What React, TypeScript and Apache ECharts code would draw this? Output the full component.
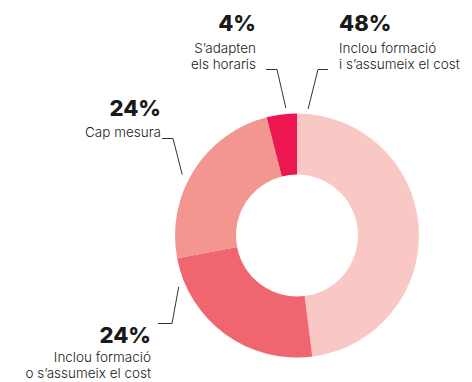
import React, { useEffect, useRef } from "react";
import * as echarts from "echarts";

// Shares of each answer, clockwise from 12 o'clock
const percents = [48, 24, 24, 4];
const captions = [
  ["Inclou formació", "i s’assumeix el cost"],
  ["Inclou formació", "o s’assumeix el cost"],
  ["Cap mesura"],
  ["S’adapten", "els horaris"],
];
const colors = ["#f9c8c4", "#f06670", "#f3968f", "#ed1651"];

const CENTER: [number, number] = [297, 235.5];
const INNER = 61;
const OUTER = 122;

// Leader line geometry per slice: angle (deg, clockwise from top) and distance
// where the line starts, then the elbow and the end of the horizontal stub,
// the label's anchor (top of the text block) and the height of its first row.
const leaders = [
  { angle: 5, dist: 127, elbow: [318, 69.5], end: [328, 69.5], label: [339, 7.2], align: "left", head: 32.4 },
  { angle: 246.5, dist: 129, elbow: [172, 323.5], end: [158, 323.5], label: [151, 322.1], align: "right", head: 26.8 },
  { angle: 298, dist: 130, elbow: [173, 138.5], end: [162, 138.5], label: [161, 92.8], align: "right", head: 31.4 },
  { angle: 355, dist: 128, elbow: [277, 69.5], end: [266, 69.5], label: [256, 7.2], align: "right", head: 32.4 },
];

function anchorPoint(angle: number, dist: number): [number, number] {
  const a = (angle * Math.PI) / 180;
  return [CENTER[0] + dist * Math.sin(a), CENTER[1] - dist * Math.cos(a)];
}

export default function App() {
  const ref = useRef<HTMLDivElement>(null);

  useEffect(() => {
    if (!ref.current) return;
    const chart = echarts.init(ref.current, undefined, { renderer: "svg" });

    const rich: Record<string, any> = {
      txt: {
        fontFamily: "Inter",
        fontWeight: 300,
        fontSize: 13.5,
        lineHeight: 16.4,
        color: "#1a1a1a",
      },
    };
    leaders.forEach((l, i) => {
      rich["pct" + i] = {
        fontFamily: "Inter",
        fontWeight: 800,
        fontSize: 22,
        lineHeight: l.head,
        color: "#1a1a1a",
      };
    });

    const data = percents.map((v, i) => ({
      value: v,
      name: captions[i].join(" "),
      itemStyle: { color: colors[i] },
    }));

    chart.setOption({
      animation: false,
      series: [
        {
          type: "pie",
          center: CENTER,
          radius: [INNER, OUTER],
          startAngle: 90,
          clockwise: true,
          silent: true,
          avoidLabelOverlap: false,
          minShowLabelAngle: 0,
          data,
          label: {
            show: true,
            position: "outside",
            overflow: "none",
            formatter: (p: any) =>
              [`{pct${p.dataIndex}|${percents[p.dataIndex]}%}`]
                .concat(captions[p.dataIndex].map((t) => `{txt|${t}}`))
                .join("\n"),
            rich,
          },
          labelLine: {
            show: true,
            lineStyle: { color: "#333333", width: 1 },
          },
          labelLayout: (params: any) => {
            const l = leaders[params.dataIndex];
            return {
              x: l.label[0],
              y: l.label[1],
              align: l.align,
              verticalAlign: "top",
              labelLinePoints: [anchorPoint(l.angle, l.dist), l.elbow, l.end],
            };
          },
        },
      ],
    });

    return () => chart.dispose();
  }, []);

  return (
    <div
      ref={ref}
      style={{ position: "fixed", left: 0, top: 0, width: 472, height: 382, background: "#ffffff" }}
    />
  );
}
